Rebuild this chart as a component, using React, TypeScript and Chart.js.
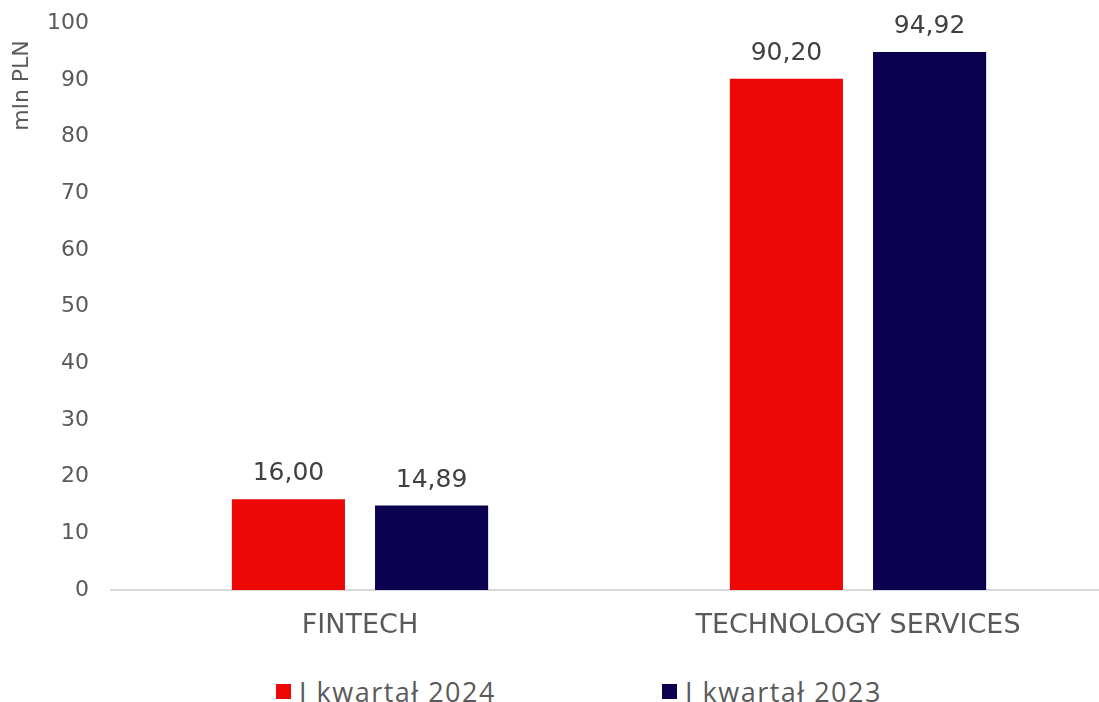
import React, { useEffect, useRef } from "react";
import { Chart, registerables } from "chart.js";

Chart.register(...registerables);

const categories = ["FINTECH", "TECHNOLOGY SERVICES"];
const seriesNames = ["I kwartał 2024", "I kwartał 2023"];
const series2024 = [16.0, 90.2];
const series2023 = [14.89, 94.92];
const colors = ["#EE0707", "#0A0050"];
const yTitle = "mln PLN";

const AXIS_FONT = "'DejaVu Sans', sans-serif";
const LEGEND_FONT = "'Open Sans', sans-serif";

const fmt = (v: number) => v.toFixed(2).replace(".", ",");

const labelsPlugin = {
  id: "valueLabels",
  afterDatasetsDraw(chart: any) {
    const { ctx } = chart;
    ctx.save();
    ctx.font = `25px ${AXIS_FONT}`;
    ctx.fillStyle = "#404040";
    ctx.textAlign = "center";
    ctx.textBaseline = "bottom";
    chart.data.datasets.forEach((ds: any, i: number) => {
      const meta = chart.getDatasetMeta(i);
      meta.data.forEach((el: any, j: number) => {
        ctx.fillText(fmt(ds.data[j]), el.x, el.y - 13);
      });
    });
    // y axis title
    ctx.translate(22, chart.chartArea.top + 17);
    ctx.rotate(-Math.PI / 2);
    ctx.font = `22px ${AXIS_FONT}`;
    ctx.fillStyle = "#595959";
    ctx.textAlign = "right";
    ctx.textBaseline = "middle";
    ctx.fillText(yTitle, 0, 0);
    ctx.restore();
  },
};

export default function App() {
  const ref = useRef<HTMLCanvasElement>(null);
  useEffect(() => {
    if (!ref.current) return;
    const chart = new Chart(ref.current, {
      type: "bar",
      data: {
        labels: categories,
        datasets: [
          { label: seriesNames[0], data: series2024, backgroundColor: colors[0] },
          { label: seriesNames[1], data: series2023, backgroundColor: colors[1] },
        ],
      },
      options: {
        animation: false,
        responsive: true,
        maintainAspectRatio: false,
        layout: { padding: { top: 0, right: 1, left: 0, bottom: 0 } },
        datasets: {
          bar: { categoryPercentage: 0.575, barPercentage: 0.79 },
        },
        plugins: {
          legend: { display: false },
          tooltip: { enabled: false },
        },
        scales: {
          x: {
            grid: { display: false, drawTicks: false },
            border: { display: true, color: "#D9D9D9", width: 2 },
            ticks: {
              color: "#595959",
              font: { family: AXIS_FONT, size: 27 },
              padding: 20,
            },
            afterFit: (s: any) => {
              s.height = 60;
            },
          },
          y: {
            min: 0,
            max: 100,
            grid: { display: false, drawTicks: false },
            border: { display: false },
            ticks: {
              stepSize: 10,
              color: "#595959",
              font: { family: AXIS_FONT, size: 22 },
              padding: 22,
            },
            afterFit: (s: any) => {
              s.width = 111;
            },
          },
        },
      },
      plugins: [labelsPlugin],
    });
    return () => chart.destroy();
  }, []);

  const legendItem = (i: number, left: number) => (
    <div
      style={{
        position: "absolute",
        left,
        top: 672,
        display: "flex",
        alignItems: "center",
        fontFamily: LEGEND_FONT,
        fontSize: 27,
        letterSpacing: 1.5,
        color: "#595959",
        whiteSpace: "nowrap",
        height: 38,
      }}
    >
      <span
        style={{
          display: "inline-block",
          width: 15,
          height: 15,
          background: colors[i],
          marginRight: 8,
        }}
      />
      {seriesNames[i]}
    </div>
  );

  return (
    <div
      style={{
        position: "fixed",
        left: 0,
        top: 0,
        width: 1099,
        height: 702,
        overflow: "hidden",
        background: "#fff",
      }}
    >
      <div style={{ position: "absolute", left: 0, top: -12, width: 1108, height: 662 }}>
        <canvas ref={ref} />
      </div>
      {legendItem(0, 276)}
      {legendItem(1, 662)}
    </div>
  );
}
